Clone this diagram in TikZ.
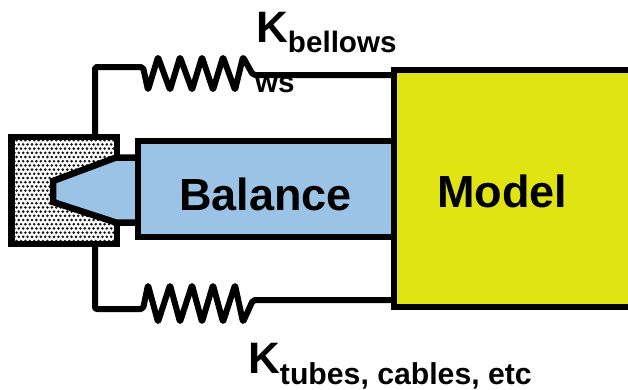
\documentclass[tikz,border=0pt]{standalone}
\usepackage{fontspec}
\setmainfont{Liberation Sans}
\definecolor{balblue}{RGB}{155,195,230}
\definecolor{modelyellow}{RGB}{224,228,18}
\tikzset{
  x=1pt,y=-1pt,
  heavy/.style={draw=black,line width=6.5pt,line join=miter},
  wire/.style={draw=black,line width=6pt,line join=round,line cap=round},
  lbl/.style={inner sep=0pt,anchor=base west}
}
\newcommand{\bigK}[2]{{\fontsize{44}{44}\selectfont K}{\fontsize{#1}{#1}\selectfont #2}}
\begin{document}
\begin{tikzpicture}
\useasboundingbox (0,0) rectangle (628,389);
\coordinate (blockTop) at (95,137);
\coordinate (blockBot) at (95,244);
\coordinate (modelTop) at (394,75);
\coordinate (modelBot) at (394,300);
% wires
\draw[wire,rounded corners=2pt] (blockTop) -- (95,67) -- (143,67)
  -- (148,90) -- (158,57) -- (170,90) -- (180,57) -- (192,90) -- (202,57)
  -- (213,90) -- (223,57) -- (235,90) -- (243,57) -- (253,75) -- (modelTop);
\draw[wire,rounded corners=2pt] (blockBot) -- (95,309) -- (143,309)
  -- (148,285) -- (158,322) -- (170,285) -- (180,322) -- (192,285) -- (202,322)
  -- (213,285) -- (223,322) -- (235,285) -- (243,322) -- (253,300) -- (modelBot);
% fixed block: white with stipple, then border
\fill[white] (11.5,137) rectangle (117,244);
\begin{scope}
  \clip (11.5,137) rectangle (117,244);
  \foreach \i in {0,...,24} {
    \foreach \j in {0,...,25} {
      \pgfmathsetmacro{\dx}{mod(\j,2)*2.2}
      \fill[black!90] ({10+\i*4.4+\dx},{136+\j*4.2}) circle[radius=1.45pt];
    }
  }
\end{scope}
\node[draw=black,line width=6.5pt,inner sep=0pt,minimum width=105.5pt,minimum height=107pt] (block) at (64.25,190.5) {};
% nose
\fill[balblue] (135,157.5) -- (116,157.5) -- (53,181) -- (53,202) -- (116,222.5) -- (135,222.5) -- cycle;
\draw[heavy] (138,157.5) -- (116,157.5) -- (53,181) -- (53,202) -- (116,222.5) -- (138,222.5);
% balance
\fill[balblue] (138,141) rectangle (394,237);
\draw[heavy] (394,141) -- (138,141) -- (138,237) -- (394,237);
\node[lbl,font=\bfseries\fontsize{45}{45}\selectfont] (balance) at (179,210) {Balance};
% model
\fill[modelyellow] (394,70) rectangle (628,307);
\draw[heavy] (634,70) -- (394,70) -- (394,307) -- (634,307);
\node[lbl,font=\bfseries\fontsize{45}{45}\selectfont] (model) at (437,207.5) {Model};
% labels
\node[lbl,font=\bfseries] (kb) at (256,42) {\bigK{29.6}{\raisebox{-10pt}{bellows}}};
\node[lbl,font=\bfseries\fontsize{29.6}{29.6}\selectfont] (ws) at (255,92) {ws};
\node[lbl,font=\bfseries] (kt) at (248,373) {\bigK{30.2}{\raisebox{-11pt}{tubes, cables, etc}}};
\end{tikzpicture}
\end{document}
